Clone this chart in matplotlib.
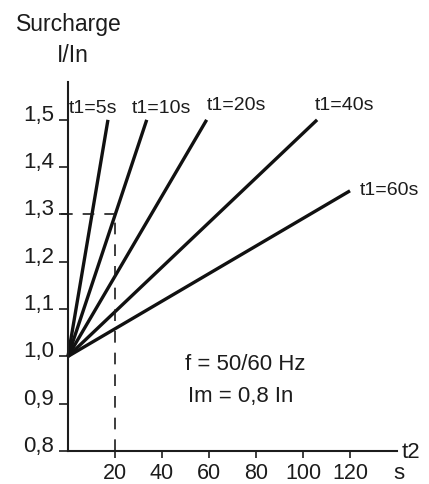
import matplotlib.pyplot as plt
import numpy as np

# overload curves: start (0, 1.0), end points
curve_names = ['t1=5s', 't1=10s', 't1=20s', 't1=40s', 't1=60s']
end_t = [17, 33.5, 59, 106, 120]
end_ratio = [1.5, 1.5, 1.5, 1.5, 1.35]
start_t = 0
start_ratio = 1.0

y_ticks = [0.8, 0.9, 1.0, 1.1, 1.2, 1.3, 1.4, 1.5]
y_labels = ['0,8', '0,9', '1,0', '1,1', '1,2', '1,3', '1,4', '1,5']
x_ticks = [20, 40, 60, 80, 100, 120]
x_labels = ['20', '40', '60', '80', '100', '120']

plt.rcParams['font.family'] = ['Liberation Sans', 'DejaVu Sans']
ink = '#1c1c1c'

fig = plt.figure(figsize=(4.29, 4.85), dpi=100)
ax = fig.add_axes([68/429, 33/485, 329/429, 369/485])
ax.set_xlim(0, 140)
ax.set_ylim(0.8, 1.58)

for name, tx, ry in zip(curve_names, end_t, end_ratio):
    ax.plot([start_t, tx], [start_ratio, ry], color='#111111', lw=2.4,
            solid_capstyle='butt', clip_on=False)

# dashed guide at 20 s / 1,3
ax.plot([20, 20], [0.8, 1.3], color=ink, lw=1.2, ls=(0, (7, 6)))
ax.plot([-3, 20], [1.3, 1.3], color=ink, lw=1.2, ls=(0, (7, 6)), clip_on=False)

# curve labels (left edge, baseline)
label_x = [0.5, 27.2, 59, 105, 124]
label_y = [1.516, 1.516, 1.523, 1.523, 1.343]
for name, lx, ly in zip(curve_names, label_x, label_y):
    ax.text(lx, ly, name, fontsize=14, color=ink, va='baseline', ha='left')

ax.text(49.8, 0.973, 'f = 50/60 Hz', fontsize=16, color=ink, va='baseline')
ax.text(51, 0.906, 'Im = 0,8 In', fontsize=16, color=ink, va='baseline')

ax.spines['top'].set_visible(False)
ax.spines['right'].set_visible(False)
for s in ['left', 'bottom']:
    ax.spines[s].set_linewidth(1.5)
    ax.spines[s].set_color(ink)

ax.set_yticks(y_ticks)
ax.set_yticklabels(y_labels, fontsize=16, color=ink)
for lbl in ax.get_yticklabels():
    lbl.set_va('baseline')
ax.set_xticks(x_ticks)
ax.set_xticklabels(x_labels, fontsize=15.5, color=ink)
ax.tick_params(axis='y', length=6.5, width=1.2, color=ink, pad=3.5)
ax.tick_params(axis='x', length=5, width=1.2, color=ink, pad=3)

fig.text(16/429, 1 - 24/485, 'Surcharge', fontsize=16.5, color=ink, va='center')
fig.text(57/429, 1 - 56/485, 'I/In', fontsize=16.5, color=ink, va='center')
fig.text(393/429, 1 - 474/485, 's', fontsize=16, color=ink, va='center')
fig.text(402/429, 1 - 453/485, 't2', fontsize=16, color=ink, va='center')

fig.savefig('out.png', dpi=100)
